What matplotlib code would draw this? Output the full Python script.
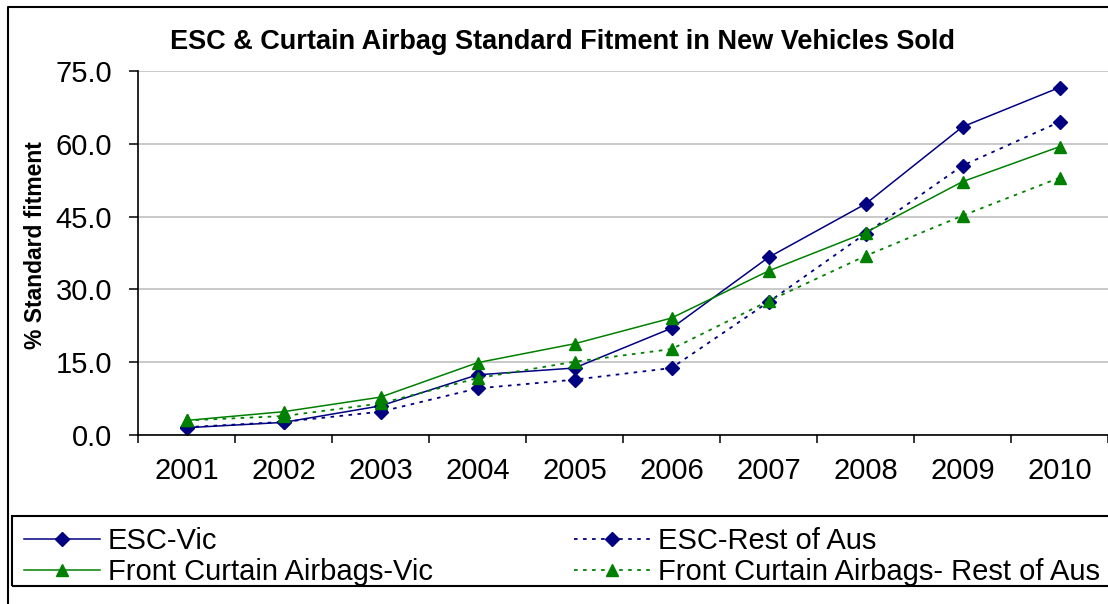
import matplotlib
matplotlib.use("Agg")
import matplotlib.pyplot as plt
from matplotlib.lines import Line2D
from matplotlib.patches import Rectangle

plt.rcParams["font.family"] = ["Liberation Sans", "DejaVu Sans"]

years = ["2001", "2002", "2003", "2004", "2005", "2006", "2007", "2008", "2009", "2010"]
esc_vic = [1.5, 2.6, 6.0, 12.4, 13.8, 22.0, 36.6, 47.6, 63.5, 71.6]
esc_rest = [1.6, 2.7, 4.8, 9.6, 11.4, 13.8, 27.4, 41.5, 55.5, 64.5]
airbag_vic = [3.0, 4.8, 7.8, 14.9, 18.8, 24.1, 33.8, 41.7, 52.2, 59.4]
airbag_rest = [3.0, 3.9, 6.5, 11.7, 15.1, 17.7, 27.6, 36.9, 45.2, 53.0]
yticks = [0, 15, 30, 45, 60, 75]

NAVY = "#000080"
GREEN = "#008000"
DOT = (0, (2, 3))

W, H = 1108, 604
fig = plt.figure(figsize=(W / 100, H / 100), dpi=100)


def fx(px):
    return px / W


def fy(py):
    return 1 - py / H


ax = fig.add_axes([fx(138), fy(435), fx(1108) - fx(138), fy(71) - fy(435)])
x = list(range(1, len(years) + 1))

ax.plot(x, esc_vic, color=NAVY, lw=1.1, marker="D", ms=7, label="ESC-Vic")
ax.plot(x, esc_rest, color=NAVY, lw=1.3, ls=DOT, marker="D", ms=7, label="ESC-Rest of Aus")
ax.plot(x, airbag_vic, color=GREEN, lw=1.1, marker="^", ms=9, label="Front Curtain Airbags-Vic")
ax.plot(x, airbag_rest, color=GREEN, lw=1.3, ls=DOT, marker="^", ms=9,
        label="Front Curtain Airbags- Rest of Aus")

ax.set_xlim(0.5, len(years) + 0.5)
ax.set_ylim(0, 75)
ax.set_yticks(yticks)
ax.set_yticklabels([f"{v:.1f}" for v in yticks])
ax.yaxis.grid(True, color="#c0c0c0", lw=1.2)
ax.set_axisbelow(True)

# category ticks sit between years, labels on the years
ax.set_xticks([i + 0.5 for i in range(len(years) + 1)])
ax.set_xticklabels([])
ax.set_xticks(x, minor=True)
ax.set_xticklabels(years, minor=True)
ax.tick_params(axis="x", which="major", direction="out", length=6, width=1.1)
ax.tick_params(axis="x", which="minor", length=0, pad=16, labelsize=21)
ax.tick_params(axis="y", direction="out", length=6.5, width=1.1, pad=12, labelsize=21)

for s in ["top", "right"]:
    ax.spines[s].set_visible(False)
for s in ["left", "bottom"]:
    ax.spines[s].set_linewidth(1.2)

fig.text(fx(562), fy(42), "ESC & Curtain Airbag Standard Fitment in New Vehicles Sold",
         ha="center", va="center", fontsize=19.5, fontweight="bold")
fig.text(fx(36), fy(245), "% Standard fitment", rotation=90, ha="center", va="center",
         fontsize=16.5, fontweight="bold")

# outer chart border (left + top visible)
fig.add_artist(Line2D([fx(8), fx(8), fx(1120)], [fy(610), fy(7), fy(7)],
                      transform=fig.transFigure, color="black", lw=1.5))

# legend box
fig.add_artist(Rectangle((fx(12), fy(586)), fx(1120) - fx(12), fy(516) - fy(586),
                         transform=fig.transFigure, fill=False, ec="black", lw=1.5))

h, l = ax.get_legend_handles_labels()
common = dict(loc="upper left", frameon=False, fontsize=21, borderpad=0, borderaxespad=0,
              handlelength=2.6, handletextpad=0.27, labelspacing=0.1, numpoints=1)
fig.legend([h[0], h[2]], [l[0], l[2]], bbox_to_anchor=(fx(24), fy(527)), **common)
fig.legend([h[1], h[3]], [l[1], l[3]], bbox_to_anchor=(fx(574), fy(527)), **common)

fig.savefig("out.png", dpi=100)
